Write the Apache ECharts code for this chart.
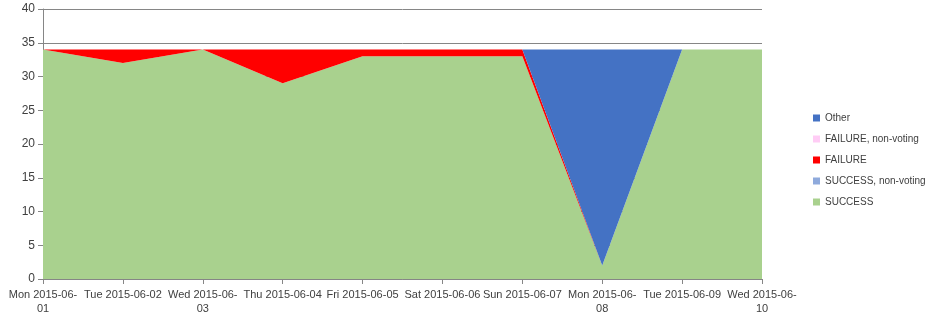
<!DOCTYPE html>
<html><head><meta charset="utf-8">
<script src="https://cdn.jsdelivr.net/npm/echarts@6/dist/echarts.min.js"></script>
<style>html,body{margin:0;padding:0;background:#fff;}#c{width:928px;height:319px;}</style>
</head><body><div id="c"></div>
<script>
var categories = ["Mon 2015-06-01","Tue 2015-06-02","Wed 2015-06-03","Thu 2015-06-04","Fri 2015-06-05","Sat 2015-06-06","Sun 2015-06-07","Mon 2015-06-08","Tue 2015-06-09","Wed 2015-06-10"];
var tickLabels = ["Mon 2015-06-\n01","Tue 2015-06-02","Wed 2015-06-\n03","Thu 2015-06-04","Fri 2015-06-05","Sat 2015-06-06","Sun 2015-06-07","Mon 2015-06-\n08","Tue 2015-06-09","Wed 2015-06-\n10"];
var success = [34, 32, 34, 29, 33, 33, 33, 2, 34, 34];
var successNV = [0, 0, 0, 0, 0, 0, 0, 0, 0, 0];
var failure = [0, 2, 0, 5, 1, 1, 1, 0, 0, 0];
var failureNV = [0, 0, 0, 0, 0, 0, 0, 0, 0, 0];
var other = [0, 0, 0, 0, 0, 0, 0, 32, 0, 0];
var yTicks = [0, 5, 10, 15, 20, 25, 30, 35, 40];

var font = "'Liberation Sans',sans-serif";
function area(name, data, color) {
  return {name: name, type: 'line', stack: 'all', data: data, symbol: 'none',
    lineStyle: {width: 0}, areaStyle: {color: color, opacity: 1}, itemStyle: {color: color}};
}
var chart = echarts.init(document.getElementById('c'), null, {renderer: 'canvas'});
chart.setOption({
  animation: false,
  textStyle: {fontFamily: font},
  grid: {left: 43, right: 166, top: 9, bottom: 40},
  legend: {
    orient: 'vertical', left: 808, top: 107, itemGap: 9, itemWidth: 7, itemHeight: 7,
    icon: 'rect', textStyle: {fontSize: 10, lineHeight: 12, color: '#404040', fontFamily: font},
    data: ['Other', 'FAILURE, non-voting', 'FAILURE', 'SUCCESS, non-voting', 'SUCCESS']
  },
  xAxis: {
    type: 'category', data: categories, boundaryGap: false,
    axisLine: {lineStyle: {color: '#868686'}},
    axisTick: {show: true, length: 5, lineStyle: {color: '#868686'}, alignWithLabel: true},
    axisLabel: {interval: 0, color: '#404040', fontSize: 11, lineHeight: 14, margin: 9,
      formatter: function (v, i) { return tickLabels[i]; }},
    splitLine: {show: false}
  },
  yAxis: {
    type: 'value', min: yTicks[0], max: yTicks[yTicks.length - 1], interval: 5,
    axisLine: {show: true, lineStyle: {color: '#868686'}},
    axisTick: {show: true, length: 5, lineStyle: {color: '#868686'}},
    axisLabel: {color: '#404040', fontSize: 12, margin: 8},
    splitLine: {show: true, lineStyle: {color: '#868686', width: 1}}
  },
  series: [
    area('SUCCESS', success, '#A9D18E'),
    area('SUCCESS, non-voting', successNV, '#8FAADC'),
    area('FAILURE', failure, '#FF0000'),
    area('FAILURE, non-voting', failureNV, '#FFCCF5'),
    area('Other', other, '#4472C4')
  ]
});
</script></body></html>
